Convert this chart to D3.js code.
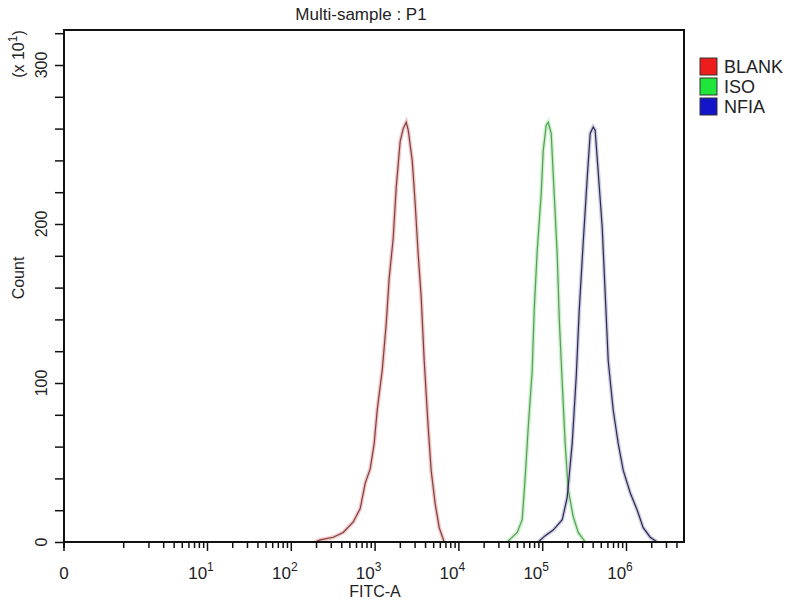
<!DOCTYPE html>
<html>
<head>
<meta charset="utf-8">
<script src="https://cdn.jsdelivr.net/npm/d3@7"></script>
<style>
  body { margin: 0; background: #fff; }
  text { font-family: "Liberation Sans", Arial, sans-serif; fill: #222; }
</style>
</head>
<body>
<div id="chart"></div>
<script>
// FITC-A intensity (x) and count (x10)
var blankFitc = [195, 224, 321, 422, 556, 673, 773, 886, 989, 1074, 1233, 1375, 1493, 1667, 1811, 2019, 2195, 2384, 2518, 2812, 3048, 3311, 3597, 3908, 4363, 4733, 5285, 5901, 6771];
var blankCount = [0, 1.3, 3, 6, 12.6, 21, 37, 46, 62, 83, 108, 137, 166, 191, 223, 252, 260, 264, 259, 240, 213, 181, 154, 114, 72, 45, 24, 9, 0];

var isoFitc = [38200, 50350, 57700, 62700, 68100, 76000, 80300, 87100, 97300, 102800, 111600, 118000, 128000, 139000, 151000, 159600, 173400, 188000, 204200, 234400, 269000, 326000];
var isoCount = [0, 6, 14, 41, 72, 108, 146, 183, 219, 246, 262, 264, 257, 219, 181, 141, 100, 62, 33, 16, 6, 0];

var nfiaFitc = [89600, 108600, 135300, 173400, 198700, 228000, 254700, 276700, 308300, 344400, 374100, 406400, 428500, 465600, 520000, 564900, 613600, 703300, 807200, 926600, 1122000, 1361000, 1604000, 1945000, 2356000];
var nfiaCount = [0, 4, 7.5, 14, 28, 62, 104, 146, 188, 229, 257, 261, 259, 233, 198, 156, 114, 83, 62, 45, 31, 20, 9, 3, 0];

var seriesNames = ["BLANK", "ISO", "NFIA"];
var legendColors = ["#ee1c1c", "#1ee63a", "#1414c8"];
var lineColors = ["#7a4040", "#5a9a5a", "#2a2a48"];
var haloColors = ["#f4c8c8", "#c8f2c8", "#cfcfe8"];

var yTicks = d3.range(0, 321, 20);
var yLabels = [0, 100, 200, 300];
var xDecades = [10, 100, 1000, 10000, 100000, 1000000];

var w = 800, h = 600;
var plotLeft = 64, plotRight = 684, plotTop = 30, plotBottom = 542;

var svg = d3.select("#chart").append("svg").attr("width", w).attr("height", h);

// log axis, decade 10^1 at 207 and 10^6 at 626
var x0 = d3.scaleLog().domain([10, 1e6]).range([207, 626]);
var x = d3.scaleLog().domain([x0.invert(plotLeft), x0.invert(plotRight)]).range([plotLeft, plotRight]);
var y = d3.scaleLinear().domain([0, 300]).range([plotBottom, 65]);

// curves
var series = [
    d3.zip(blankFitc, blankCount),
    d3.zip(isoFitc, isoCount),
    d3.zip(nfiaFitc, nfiaCount)
];
var line = d3.line()
    .x(function(d) { return x(d[0]); })
    .y(function(d) { return y(d[1]); });

series.forEach(function(s, i) {
    svg.append("path").datum(s).attr("d", line)
        .attr("fill", "none").attr("stroke", haloColors[i]).attr("stroke-width", 4);
});
series.forEach(function(s, i) {
    svg.append("path").datum(s).attr("d", line)
        .attr("fill", "none").attr("stroke", lineColors[i]).attr("stroke-width", 1.2);
});

// minor x ticks
var minors = [];
for (var k = 0; k <= 6; k++) {
    for (var m = 1; m <= 9; m++) {
        var v = m * Math.pow(10, k);
        if (x(v) <= plotRight && xDecades.indexOf(v) < 0) minors.push(v);
    }
}

var xMinor = svg.append("g").attr("transform", "translate(0," + plotBottom + ")")
    .call(d3.axisBottom(x).tickValues(minors).tickSize(6).tickFormat(""));
var xMajor = svg.append("g").attr("transform", "translate(0," + plotBottom + ")")
    .call(d3.axisBottom(x).tickValues(xDecades).tickSize(9).tickFormat(""));
[xMinor, xMajor].forEach(function(g) {
    g.select(".domain").remove();
    g.selectAll("line").attr("stroke", "#111").attr("stroke-width", 1.5);
});

// "0" tick at the left end
svg.append("line").attr("x1", plotLeft).attr("x2", plotLeft).attr("y1", plotBottom).attr("y2", plotBottom + 9)
    .attr("stroke", "#111").attr("stroke-width", 1.5);
svg.append("text").attr("x", plotLeft).attr("y", 579).attr("text-anchor", "middle")
    .attr("font-size", 17).text("0");

xDecades.forEach(function(v) {
    var t = svg.append("text").attr("x", x(v) - 6).attr("y", 579)
        .attr("text-anchor", "middle").attr("font-size", 17);
    t.append("tspan").text("10");
    t.append("tspan").attr("dy", -8).attr("font-size", 12).text(Math.round(Math.log10(v)));
});

svg.append("text").attr("x", 375).attr("y", 597).attr("text-anchor", "middle")
    .attr("font-size", 16).text("FITC-A");

// y axis
var yAxis = svg.append("g").attr("transform", "translate(" + plotLeft + ",0)")
    .call(d3.axisLeft(y).tickValues(yTicks).tickSize(9).tickFormat(""));
yAxis.select(".domain").remove();
yAxis.selectAll("line").attr("stroke", "#111").attr("stroke-width", 1.5);

yLabels.forEach(function(v) {
    svg.append("text")
        .attr("transform", "translate(47," + y(v) + ") rotate(-90)")
        .attr("text-anchor", "middle").attr("font-size", 16).text(v);
});

var mult = svg.append("text").attr("transform", "translate(24,54) rotate(-90)")
    .attr("text-anchor", "middle").attr("font-size", 16);
mult.append("tspan").text("(x 10");
mult.append("tspan").attr("dy", -7).attr("font-size", 12).text("1");
mult.append("tspan").attr("dy", 7).text(")");

svg.append("text").attr("transform", "translate(24,278) rotate(-90)")
    .attr("text-anchor", "middle").attr("font-size", 16).text("Count");

// frame
svg.append("path")
    .attr("d", "M" + plotLeft + "," + (plotBottom + 6) + "V" + plotTop + "H" + plotRight + "V" + plotBottom + "H" + plotLeft)
    .attr("fill", "none").attr("stroke", "#111").attr("stroke-width", 2);

// title
svg.append("text").attr("x", 361).attr("y", 20).attr("text-anchor", "middle")
    .attr("font-size", 17).text("Multi-sample : P1");

// legend
var legend = svg.selectAll(".legend").data(seriesNames).enter().append("g")
    .attr("transform", function(d, i) { return "translate(700," + (58 + i * 20) + ")"; });
legend.append("rect").attr("width", 17).attr("height", 17)
    .attr("fill", function(d, i) { return legendColors[i]; })
    .attr("stroke", "#333").attr("stroke-width", 1);
legend.append("text").attr("x", 24).attr("y", 15).attr("font-size", 18)
    .text(function(d) { return d; });
</script>
</body>
</html>
